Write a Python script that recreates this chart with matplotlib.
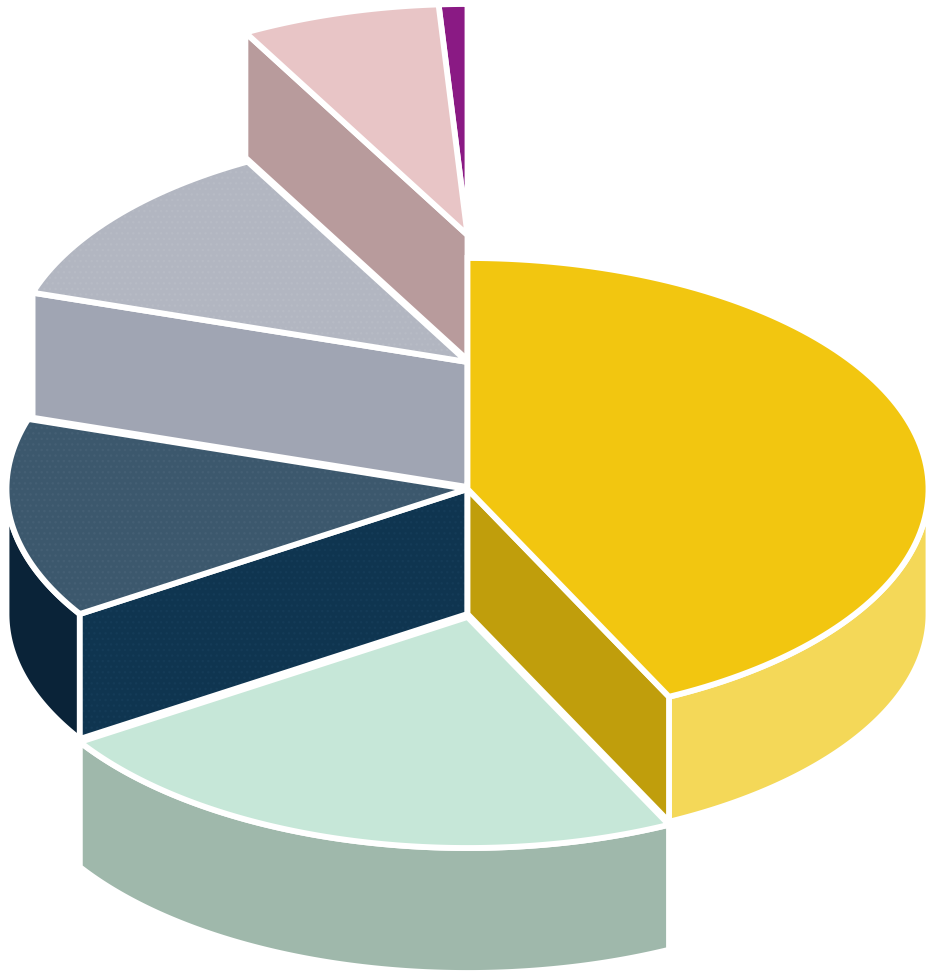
import numpy as np
import matplotlib
matplotlib.use("Agg")
import matplotlib.pyplot as plt
from matplotlib.patches import Polygon

# share of each slice, clockwise from 12 o'clock
names = ["yellow", "green", "navy", "slate", "pink", "purple"]
shares = [42.8, 23.1, 14.0, 12.1, 7.0, 1.0]

top_colors = ["#F2C610", "#C6E7D8", "#3C586D", "#B2B6C1", "#E8C5C6", "#8A1A84"]
cut_colors = ["#C09E0C", None, "#0F3550", "#A0A5B3", "#B89B9C", None]
rim_colors = ["#F4D858", "#9FB8AB", "#0A2338", None, None, None]
top_dots = [None, None, "#445F74", "#B7BBC5", None, None]
cut_dots = [None, None, "#143B57", None, None, None]
center_y = [490, 618, 490, 363, 236, 236]
radius = [1, 1, 1, 0.99, 1, 1]

cx = 467.5
rx = 461
ry = 231
depth = 125
edge = 4.2


def rim_pts(a0, a1, y0, r=1):
    t = np.radians(np.linspace(a0, a1, 120))
    return np.column_stack([cx + r * rx * np.sin(t), y0 - r * ry * np.cos(t)])


fig = plt.figure(figsize=(9.32, 9.78), dpi=100)
ax = fig.add_axes([0, 0, 1, 1])
ax.set_xlim(0, 932)
ax.set_ylim(978, 0)
ax.axis("off")

ends = np.cumsum(shares) / sum(shares) * 360
starts = np.r_[0, ends[:-1]]

# draw from the back slice to the front one
for i in [5, 4, 3, 2, 1, 0]:
    a0, a1, y0, r = starts[i], ends[i], center_y[i], radius[i]

    if rim_colors[i]:
        top_edge = rim_pts(max(a0, 90), min(a1, 270), y0, r)
        bottom_edge = top_edge[::-1] + [0, depth]
        ax.add_patch(Polygon(np.vstack([top_edge, bottom_edge]), fc=rim_colors[i],
                             ec="white", lw=edge, joinstyle="miter"))

    if cut_colors[i]:
        # yellow shows its closing cut, the others their opening cut
        angle = a1 if i == 0 else a0
        outer = rim_pts(angle, angle, y0, r)[0]
        face = [(cx, y0), outer, outer + [0, depth], (cx, y0 + depth)]
        ax.add_patch(Polygon(face, fc=cut_colors[i], ec="none"))
        if cut_dots[i]:
            ax.add_patch(Polygon(face, fc="none", ec=cut_dots[i], lw=0, hatch="..."))
        ax.add_patch(Polygon(face, fc="none", ec="white", lw=edge, joinstyle="miter"))

    sector = np.vstack([[cx, y0], rim_pts(a0, a1, y0, r)])
    ax.add_patch(Polygon(sector, fc=top_colors[i], ec="none"))
    if top_dots[i]:
        ax.add_patch(Polygon(sector, fc="none", ec=top_dots[i], lw=0, hatch="..."))
    ax.add_patch(Polygon(sector, fc="none", ec="white", lw=edge, joinstyle="miter"))

fig.savefig("out.png", dpi=100, facecolor="white")
